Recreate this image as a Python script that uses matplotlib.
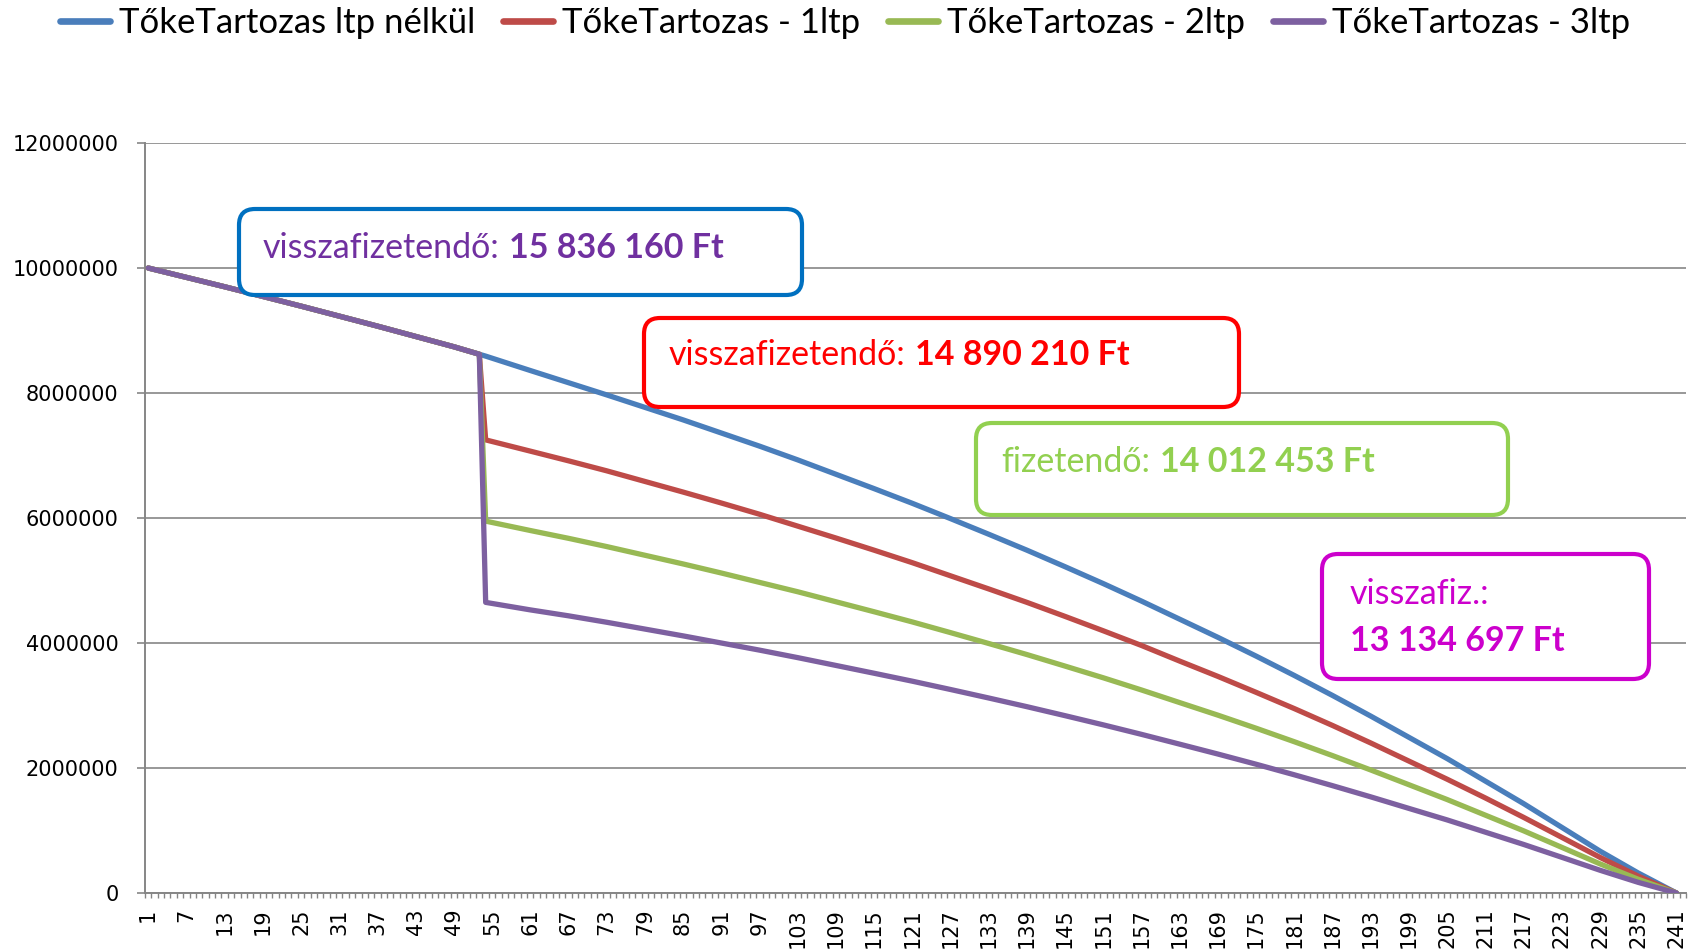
import matplotlib
matplotlib.use("Agg")
import matplotlib.pyplot as plt
from matplotlib.patches import FancyBboxPatch
from matplotlib.transforms import IdentityTransform
from matplotlib.ticker import FixedLocator, NullFormatter

W, H, DPI = 1700, 952, 100

# month index -> outstanding principal (million Ft)
months = [1, 13, 25, 37, 49, 53, 54, 61, 67, 73, 79, 85, 91, 97, 103, 109,
          115, 121, 127, 133, 139, 145, 151, 157, 163, 169, 175, 181, 187,
          193, 199, 205, 211, 217, 223, 229, 235, 241]
no_ltp = [10.00, 9.70, 9.39, 9.07, 8.74, 8.62, 8.59, 8.36, 8.165, 7.97, 7.77,
          7.57, 7.36, 7.15, 6.93, 6.70, 6.47, 6.235, 5.99, 5.74, 5.485, 5.22,
          4.95, 4.67, 4.38, 4.09, 3.79, 3.48, 3.16, 2.83, 2.49, 2.15, 1.79,
          1.43, 1.05, 0.67, 0.32, 0.0]
ltp1 = [10.00, 9.70, 9.39, 9.07, 8.74, 8.62, 7.25, 7.07, 6.915, 6.755, 6.585,
        6.415, 6.24, 6.06, 5.87, 5.68, 5.485, 5.285, 5.075, 4.865, 4.65, 4.425,
        4.195, 3.96, 3.71, 3.465, 3.21, 2.95, 2.68, 2.40, 2.11, 1.82, 1.52,
        1.21, 0.89, 0.57, 0.27, 0.0]
ltp2 = [10.00, 9.70, 9.39, 9.07, 8.74, 8.62, 5.95, 5.80, 5.675, 5.543, 5.404,
        5.265, 5.12, 4.97, 4.82, 4.66, 4.50, 4.337, 4.166, 3.992, 3.815, 3.63,
        3.443, 3.248, 3.046, 2.845, 2.636, 2.42, 2.198, 1.968, 1.732, 1.495,
        1.245, 0.995, 0.73, 0.466, 0.22, 0.0]
ltp3 = [10.00, 9.70, 9.39, 9.07, 8.74, 8.62, 4.65, 4.53, 4.435, 4.332, 4.223,
        4.114, 4.00, 3.886, 3.766, 3.641, 3.516, 3.389, 3.256, 3.12, 2.981,
        2.837, 2.69, 2.538, 2.381, 2.223, 2.06, 1.891, 1.717, 1.538, 1.353,
        1.169, 0.973, 0.777, 0.571, 0.364, 0.17, 0.0]

series = [
    ("TőkeTartozas ltp nélkül", no_ltp, "#4A7EBB"),
    ("TőkeTartozas - 1ltp", ltp1, "#BE4B48"),
    ("TőkeTartozas - 2ltp", ltp2, "#98B954"),
    ("TőkeTartozas - 3ltp", ltp3, "#7D60A0"),
]

n_months = 241
label_months = list(range(1, n_months + 1, 6))
yticks = [0, 2e6, 4e6, 6e6, 8e6, 10e6, 12e6]

GRID = "#868686"
TXT = ["Lato", "DejaVu Sans"]

fig = plt.figure(figsize=(W / DPI, H / DPI), dpi=DPI, facecolor="white")
ax = fig.add_axes([145 / W, 1 - 893 / H, (1686 - 145) / W, (893 - 143) / H])

for name, vals, col in series:
    ax.plot(months, [v * 1e6 for v in vals], color=col, lw=3.8, label=name,
            solid_joinstyle="round", solid_capstyle="round", zorder=3)

ax.set_xlim(0.5, n_months + 1.5)
ax.set_ylim(0, 12e6)
ax.set_yticks(yticks)
ax.set_yticklabels([f"{int(v)}" for v in yticks])
ax.set_xticks(label_months)
ax.set_xticklabels([str(m) for m in label_months], rotation=90)
ax.xaxis.set_minor_locator(FixedLocator([k + 0.5 for k in range(0, n_months + 2)]))
ax.xaxis.set_minor_formatter(NullFormatter())

ax.grid(axis="y", color=GRID, lw=1.2, zorder=1)
ax.set_axisbelow(True)
for s in ["top", "right"]:
    ax.spines[s].set_visible(False)
for s in ["left", "bottom"]:
    ax.spines[s].set_color(GRID)
    ax.spines[s].set_linewidth(1.4)

ax.tick_params(axis="y", direction="out", length=6, width=1.2, color=GRID,
               pad=13, labelsize=15)
ax.tick_params(axis="x", which="major", length=0, pad=11, labelsize=15)
ax.tick_params(axis="x", which="minor", direction="out", length=3.5,
               width=1.0, color=GRID)
for lab in ax.get_xticklabels() + ax.get_yticklabels():
    lab.set_family("DejaVu Sans")

leg = fig.legend(loc="center", bbox_to_anchor=(845 / W, 1 - 23 / H), ncol=4,
                 frameon=False, prop={"family": TXT, "size": 25},
                 handlelength=1.45, handletextpad=0.25, columnspacing=0.8,
                 borderpad=0, borderaxespad=0)
for h in leg.get_lines():
    h.set_linewidth(4.8)

# annotation boxes (pixel layout, top-based y)
idt = IdentityTransform()


def box(x0, y0, x1, y1, ec):
    p = FancyBboxPatch((x0, H - y1), x1 - x0, y1 - y0,
                       boxstyle="round,pad=0,rounding_size=16",
                       transform=idt, fc="white", ec=ec, lw=3, zorder=10)
    fig.add_artist(p)


renderer = fig.canvas.get_renderer()
FS = 24.5


def label(x, yc, normal, bold, col, size=FS):
    t = fig.text(x / W, 1 - yc / H, normal, color=col, fontsize=size,
                 family=TXT, va="center", ha="left", zorder=11)
    bb = t.get_window_extent(renderer)
    gap = 0.28 * size * DPI / 72
    fig.text((bb.x1 + gap) / W, 1 - yc / H, bold, color=col, fontsize=size,
             family=TXT, weight="bold", va="center", ha="left", zorder=11)


box(239, 209, 802, 295, "#0070C0")
label(263, 248, "visszafizetendő:", "15 836 160 Ft", "#7030A0")

box(644, 318, 1239, 407, "#FF0000")
label(669, 355, "visszafizetendő:", "14 890 210 Ft", "#FF0000")

box(976, 423, 1508, 515, "#92D050")
label(1001, 462, "fizetendő:", "14 012 453 Ft", "#92D050")

box(1322, 554, 1649, 679, "#CC00CC")
fig.text(1350 / W, 1 - 594 / H, "visszafiz.:", color="#CC00CC", fontsize=FS,
         family=TXT, va="center", ha="left", zorder=11)
fig.text(1350 / W, 1 - 641 / H, "13 134 697 Ft", color="#CC00CC", fontsize=FS,
         family=TXT, weight="bold", va="center", ha="left", zorder=11)

fig.savefig("out.png", dpi=DPI, facecolor="white")
